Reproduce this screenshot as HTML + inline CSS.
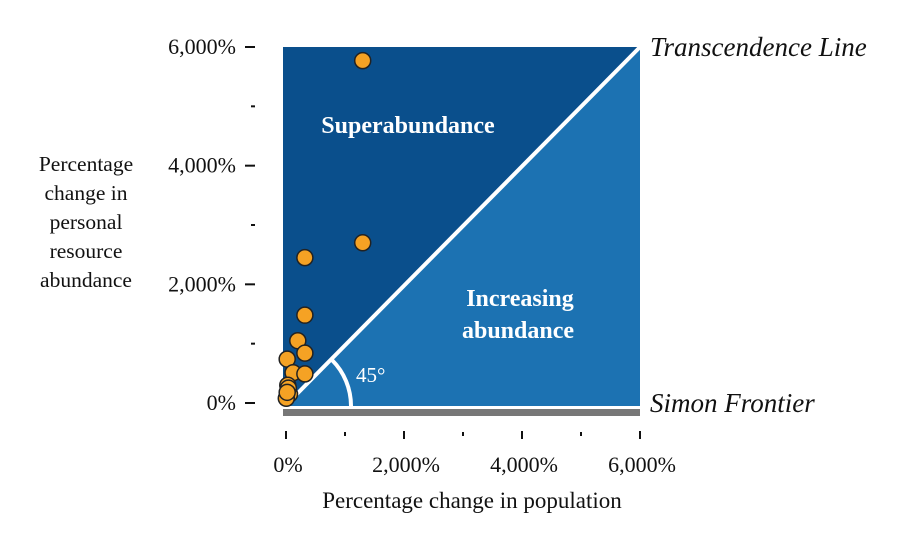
<!DOCTYPE html>
<html><head><meta charset="utf-8"><style>
body{margin:0;background:#fff;}
svg text{font-family:"Liberation Serif",serif;}
</style></head><body>
<svg width="908" height="528" id="c">
</svg>
<script>
const xVals=[1300,1300,320,320,200,320,20,120,320,30,60,5,40,20];
const yVals=[5770,2700,2450,1480,1050,840,740,510,490,300,150,80,250,180];
const xTicks=[0,2000,4000,6000];
const yTicks=[0,2000,4000,6000];
const X=v=>286+v*(640-286)/6000;
const Y=v=>403-v*(403-47)/6000;
const svg=document.getElementById('c');
const NS='http://www.w3.org/2000/svg';
function mk(t,a,txt){const e=document.createElementNS(NS,t);for(const k in a)e.setAttribute(k,a[k]);if(txt!=null)e.textContent=txt;svg.appendChild(e);return e;}
let e;
e=mk('rect',{x:283,y:47,width:357,height:359,fill:'#1c72b2'});


e=mk('polygon',{points:`283,47 640,47 ${X(0)},${Y(0)} 283,406`,fill:'#0a4f8c'});


e=mk('line',{x1:X(0),y1:Y(0)+2,x2:640,y2:47,stroke:'#fff','stroke-width':4});


e=mk('path',{d:`M ${X(0)+65} ${Y(0)+3} A 65 65 0 0 0 ${X(0)+46} ${Y(0)+3-46}`,fill:'none',stroke:'#fff','stroke-width':4});


e=mk('text',{x:356,y:382,fill:'#fff','font-size':21},'45°');


e=mk('rect',{x:283,y:409,width:357,height:7,fill:'#777'});


e=mk('text',{x:408,y:133,fill:'#fff','font-size':24,'font-weight':'bold','text-anchor':'middle'},'Superabundance');


e=mk('text',{x:520,y:306,fill:'#fff','font-size':24,'font-weight':'bold','text-anchor':'middle'},'Increasing');


e=mk('text',{x:518,y:338,fill:'#fff','font-size':24,'font-weight':'bold','text-anchor':'middle'},'abundance');


e=mk('text',{x:650,y:56,fill:'#111','font-size':27,'font-style':'italic'},'Transcendence Line');


e=mk('text',{x:650,y:412,fill:'#111','font-size':27,'font-style':'italic'},'Simon Frontier');


for(let i=0;i<xVals.length;i++){
 e=mk('circle',{cx:X(xVals[i]),cy:Y(yVals[i]),r:8,fill:'#f5a224',stroke:'#222','stroke-width':1.5});
 
 
}
for(let v=0;v<=6000;v+=1000){
 const major=v%2000===0;
 e=mk('line',{x1:X(v),x2:X(v),y1:major?431:432,y2:major?439:436,stroke:'#111','stroke-width':2});
 
 
 e=mk('line',{y1:Y(v),y2:Y(v),x1:major?245:251,x2:major?255:255,stroke:'#111','stroke-width':2});
 
 
}
xTicks.forEach(v=>{
 e=mk('text',{x:X(v)+2,y:472,'font-size':22,fill:'#111','text-anchor':'middle'},v.toLocaleString('en-US')+'%');
 
 
});
yTicks.forEach(v=>{
 e=mk('text',{x:236,y:Y(v)+7,'font-size':22,fill:'#111','text-anchor':'end'},v.toLocaleString('en-US')+'%');
 
 
});
e=mk('text',{x:472,y:508,'font-size':23,fill:'#111','text-anchor':'middle'},'Percentage change in population');


['Percentage','change in','personal','resource','abundance'].forEach((t,i)=>{
 e=mk('text',{x:86,y:171+i*29,'font-size':21.5,fill:'#111','text-anchor':'middle'},t);
 
 
});
</script>
</body></html>
